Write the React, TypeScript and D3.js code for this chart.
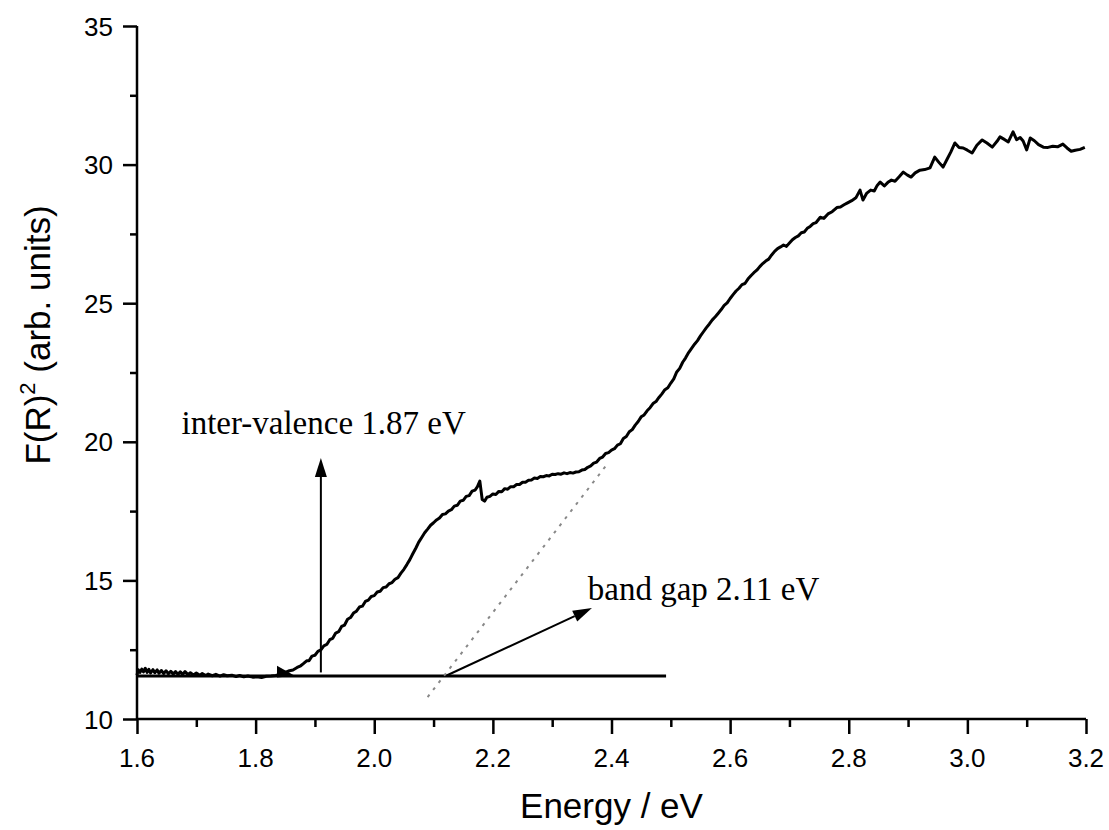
import React, { useRef, useEffect } from 'react';
import * as d3 from 'd3';

// spectrum: [energy eV, F(R)^2]
const spectrum: [number, number][] = [
  [1.600, 11.58], [1.602, 11.78], [1.605, 11.68], [1.608, 11.80], [1.611, 11.70], [1.614, 11.83],
  [1.617, 11.68], [1.620, 11.79], [1.623, 11.66], [1.627, 11.78], [1.630, 11.67], [1.634, 11.77],
  [1.637, 11.65], [1.641, 11.75], [1.645, 11.64], [1.649, 11.74], [1.653, 11.63], [1.657, 11.72],
  [1.661, 11.62], [1.665, 11.71], [1.669, 11.61], [1.673, 11.70], [1.677, 11.61], [1.681, 11.71],
  [1.686, 11.60], [1.690, 11.67], [1.695, 11.59], [1.700, 11.66], [1.706, 11.58], [1.710, 11.64],
  [1.716, 11.57], [1.720, 11.62], [1.727, 11.56], [1.733, 11.61], [1.740, 11.55], [1.746, 11.60],
  [1.752, 11.56], [1.760, 11.58], [1.767, 11.53], [1.773, 11.57], [1.780, 11.52], [1.787, 11.55],
  [1.795, 11.51], [1.802, 11.52], [1.810, 11.50], [1.818, 11.54], [1.826, 11.55], [1.834, 11.57],
  [1.842, 11.62], [1.850, 11.68], [1.857, 11.74], [1.863, 11.77], [1.870, 11.86], [1.876, 11.92],
  [1.880, 11.99], [1.886, 12.10], [1.890, 12.10], [1.895, 12.27], [1.900, 12.30], [1.905, 12.44],
  [1.910, 12.49], [1.915, 12.64], [1.920, 12.69], [1.925, 12.86], [1.930, 12.91], [1.935, 13.10],
  [1.940, 13.15], [1.945, 13.34], [1.950, 13.39], [1.955, 13.60], [1.960, 13.66], [1.965, 13.82],
  [1.970, 13.89], [1.975, 14.04], [1.980, 14.07], [1.985, 14.24], [1.990, 14.29], [1.995, 14.42],
  [2.000, 14.45], [2.005, 14.58], [2.010, 14.61], [2.015, 14.74], [2.020, 14.76], [2.025, 14.88],
  [2.030, 14.92], [2.035, 15.04], [2.040, 15.10], [2.045, 15.26], [2.050, 15.40], [2.055, 15.57],
  [2.060, 15.75], [2.065, 15.96], [2.070, 16.16], [2.075, 16.38], [2.080, 16.55], [2.085, 16.72],
  [2.090, 16.85], [2.095, 16.99], [2.100, 17.08], [2.105, 17.18], [2.110, 17.25], [2.115, 17.38],
  [2.120, 17.40], [2.125, 17.50], [2.130, 17.55], [2.135, 17.68], [2.140, 17.71], [2.145, 17.86],
  [2.150, 17.89], [2.155, 18.03], [2.160, 18.06], [2.165, 18.22], [2.170, 18.26], [2.174, 18.38],
  [2.178, 18.58], [2.182, 17.92], [2.186, 17.86], [2.190, 18.00], [2.195, 18.03], [2.200, 18.12],
  [2.205, 18.10], [2.210, 18.21], [2.215, 18.20], [2.220, 18.31], [2.225, 18.29], [2.230, 18.38],
  [2.235, 18.38], [2.240, 18.46], [2.245, 18.46], [2.250, 18.54], [2.255, 18.54], [2.260, 18.61],
  [2.265, 18.62], [2.270, 18.69], [2.275, 18.68], [2.280, 18.75], [2.285, 18.74], [2.290, 18.78],
  [2.295, 18.77], [2.300, 18.83], [2.305, 18.82], [2.310, 18.85], [2.315, 18.83], [2.320, 18.88],
  [2.325, 18.85], [2.330, 18.89], [2.335, 18.87], [2.340, 18.91], [2.345, 18.92], [2.350, 18.98],
  [2.355, 19.00], [2.360, 19.08], [2.365, 19.13], [2.370, 19.23], [2.375, 19.27], [2.380, 19.40],
  [2.385, 19.45], [2.390, 19.58], [2.395, 19.61], [2.400, 19.70], [2.405, 19.75], [2.410, 19.88],
  [2.415, 19.93], [2.420, 20.12], [2.425, 20.19], [2.430, 20.36], [2.435, 20.44], [2.440, 20.60],
  [2.445, 20.73], [2.450, 20.90], [2.455, 20.97], [2.460, 21.12], [2.465, 21.23], [2.470, 21.38],
  [2.475, 21.45], [2.480, 21.60], [2.485, 21.73], [2.490, 21.88], [2.495, 21.95], [2.500, 22.12],
  [2.505, 22.27], [2.510, 22.52], [2.515, 22.65], [2.520, 22.87], [2.525, 23.03], [2.530, 23.22],
  [2.535, 23.37], [2.540, 23.52], [2.545, 23.65], [2.550, 23.82], [2.555, 23.97], [2.560, 24.12],
  [2.565, 24.25], [2.570, 24.40], [2.575, 24.51], [2.580, 24.64], [2.585, 24.77], [2.590, 24.92],
  [2.595, 25.01], [2.600, 25.17], [2.605, 25.31], [2.610, 25.44], [2.615, 25.54], [2.620, 25.67],
  [2.625, 25.71], [2.630, 25.87], [2.635, 25.99], [2.640, 26.10], [2.645, 26.19], [2.650, 26.32],
  [2.655, 26.43], [2.660, 26.52], [2.665, 26.59], [2.670, 26.74], [2.675, 26.87], [2.680, 26.97],
  [2.685, 27.03], [2.690, 27.10], [2.695, 27.05], [2.700, 27.17], [2.705, 27.29], [2.710, 27.37],
  [2.715, 27.43], [2.720, 27.54], [2.725, 27.57], [2.730, 27.70], [2.735, 27.77], [2.740, 27.87],
  [2.745, 27.91], [2.752, 28.10], [2.758, 28.06], [2.765, 28.22], [2.772, 28.30], [2.780, 28.45],
  [2.786, 28.47], [2.792, 28.55], [2.798, 28.62], [2.805, 28.70], [2.812, 28.80], [2.819, 29.08],
  [2.824, 28.72], [2.830, 28.96], [2.837, 29.08], [2.843, 29.05], [2.848, 29.25], [2.853, 29.37],
  [2.860, 29.23], [2.866, 29.36], [2.872, 29.44], [2.878, 29.40], [2.885, 29.56], [2.892, 29.73],
  [2.899, 29.62], [2.905, 29.55], [2.912, 29.70], [2.920, 29.80], [2.928, 29.82], [2.937, 29.88],
  [2.945, 30.27], [2.952, 30.08], [2.959, 29.91], [2.966, 30.20], [2.972, 30.45], [2.979, 30.78],
  [2.986, 30.62], [2.993, 30.60], [3.000, 30.52], [3.008, 30.42], [3.016, 30.70], [3.025, 30.89],
  [3.033, 30.78], [3.042, 30.63], [3.050, 30.84], [3.055, 31.00], [3.063, 30.90], [3.069, 30.82],
  [3.077, 31.18], [3.083, 30.90], [3.089, 30.98], [3.094, 30.85], [3.100, 30.53], [3.106, 30.96],
  [3.113, 30.86], [3.120, 30.72], [3.128, 30.63], [3.136, 30.62], [3.144, 30.66], [3.152, 30.64],
  [3.161, 30.74], [3.168, 30.60], [3.175, 30.48], [3.182, 30.52], [3.190, 30.55], [3.198, 30.62]
];

// annotation geometry in data units
const baseline: [number, number][] = [[1.6, 11.55], [2.492, 11.55]];
const tangent: [number, number][] = [[2.09, 10.79], [2.394, 19.23]];
const ivArrow: [number, number][] = [[1.91, 11.68], [1.91, 19.42]];
const bgArrow: [number, number][] = [[2.122, 11.57], [2.367, 14.0]];
const wedge: [number, number][] = [[1.836, 11.92], [1.836, 11.5], [1.866, 11.56]];

const xTicks = [1.6, 1.8, 2.0, 2.2, 2.4, 2.6, 2.8, 3.0, 3.2];
const yTicks = [10, 15, 20, 25, 30, 35];
const ivLabel = 'inter-valence 1.87 eV';
const bgLabel = 'band gap 2.11 eV';

const W = 1109;
const H = 830;
const margin = { top: 26, right: 23, bottom: 111, left: 137 };

const App: React.FC = () => {
  const svgRef = useRef<SVGSVGElement>(null);

  useEffect(() => {
    if (!svgRef.current) return;
    const svg = d3.select(svgRef.current);
    svg.selectAll('*').remove();

    const innerW = W - margin.left - margin.right;
    const innerH = H - margin.top - margin.bottom;

    const x = d3.scaleLinear().domain([1.6, 3.2]).range([margin.left, margin.left + innerW]);
    const y = d3.scaleLinear().domain([10, 35]).range([margin.top + innerH, margin.top]);

    const sans = 'Arial, "Liberation Sans", sans-serif';
    const serif = '"Times New Roman", "Liberation Serif", serif';

    const line = d3.line<[number, number]>()
      .x(d => x(d[0]))
      .y(d => y(d[1]));

    // axes
    const xAxis = svg.append('g').attr('transform', `translate(0,${y(10)})`);
    xAxis.call(d3.axisBottom(x).tickValues(d3.range(1.6, 3.2001, 0.1)).tickSize(8).tickFormat(() => ''));
    xAxis.call(g => g.selectAll('.tick').filter((_, i) => i % 2 === 0).select('line').attr('y2', 15));
    xAxis.select('.domain').attr('stroke-width', 2.5).attr('d', `M${x(1.6)},0H${x(3.2)}`);
    xAxis.selectAll('.tick line').attr('stroke-width', 2.5);

    const yAxis = svg.append('g').attr('transform', `translate(${x(1.6)},0)`);
    yAxis.call(d3.axisLeft(y).tickValues(d3.range(10, 35.001, 2.5)).tickSize(7).tickFormat(() => ''));
    yAxis.call(g => g.selectAll('.tick').filter((_, i) => i % 2 === 0).select('line').attr('x2', -14));
    yAxis.select('.domain').attr('stroke-width', 2.5).attr('d', `M0,${y(10)}V${y(35)}`);
    yAxis.selectAll('.tick line').attr('stroke-width', 2.5);

    svg.append('g').selectAll('text').data(xTicks).enter().append('text')
      .attr('x', d => x(d)).attr('y', y(10) + 48)
      .attr('text-anchor', 'middle')
      .style('font-family', sans).style('font-size', '26px')
      .text(d => d.toFixed(1));

    svg.append('g').selectAll('text').data(yTicks).enter().append('text')
      .attr('x', x(1.6) - 24).attr('y', d => y(d) + 9.5)
      .attr('text-anchor', 'end')
      .style('font-family', sans).style('font-size', '26px')
      .text(d => String(d));

    svg.append('text')
      .attr('x', (x(1.6) + x(3.2)) / 2).attr('y', 818)
      .attr('text-anchor', 'middle')
      .style('font-family', sans).style('font-size', '35px')
      .text('Energy / eV');

    const yl = svg.append('text')
      .attr('transform', `translate(50,${335}) rotate(-90)`)
      .attr('text-anchor', 'middle')
      .style('font-family', sans).style('font-size', '35px');
    yl.append('tspan').text('F(R)');
    yl.append('tspan').attr('dy', -15).style('font-size', '22px').text('2');
    yl.append('tspan').attr('dy', 15).text(' (arb. units)');

    // baseline + tangent
    svg.append('path').datum(baseline).attr('d', line)
      .attr('fill', 'none').attr('stroke', '#000').attr('stroke-width', 3);
    svg.append('path').datum(tangent).attr('d', line)
      .attr('fill', 'none').attr('stroke', '#888').attr('stroke-width', 2)
      .attr('stroke-dasharray', '3,6');

    // spectrum
    svg.append('path').datum(spectrum).attr('d', line)
      .attr('fill', 'none').attr('stroke', '#000').attr('stroke-width', 3)
      .attr('stroke-linejoin', 'round');

    svg.append('path').datum(wedge).attr('d', d => line(d) + 'Z').attr('fill', '#000');

    // arrows
    const arrow = (pts: [number, number][]) => {
      const [a, b] = pts;
      const x1 = x(a[0]), y1 = y(a[1]), x2 = x(b[0]), y2 = y(b[1]);
      const ang = Math.atan2(y2 - y1, x2 - x1);
      const len = 19, half = 6;
      const bx = x2 - len * Math.cos(ang), by = y2 - len * Math.sin(ang);
      svg.append('line').attr('x1', x1).attr('y1', y1).attr('x2', bx).attr('y2', by)
        .attr('stroke', '#000').attr('stroke-width', 2);
      const px = -Math.sin(ang) * half, py = Math.cos(ang) * half;
      svg.append('path')
        .attr('d', `M${x2},${y2}L${bx + px},${by + py}L${bx - px},${by - py}Z`)
        .attr('fill', '#000');
    };
    arrow(ivArrow);
    arrow(bgArrow);

    svg.append('text').attr('x', x(1.675)).attr('y', y(20.28))
      .style('font-family', serif).style('font-size', '33px').text(ivLabel);
    svg.append('text').attr('x', x(2.36)).attr('y', y(14.3))
      .style('font-family', serif).style('font-size', '33px').text(bgLabel);
  }, []);

  return (
    <svg
      ref={svgRef}
      width={W}
      height={H}
      viewBox={`0 0 ${W} ${H}`}
      style={{ position: 'absolute', left: 0, top: 0, background: '#fff' }}
    />
  );
};

export default App;
